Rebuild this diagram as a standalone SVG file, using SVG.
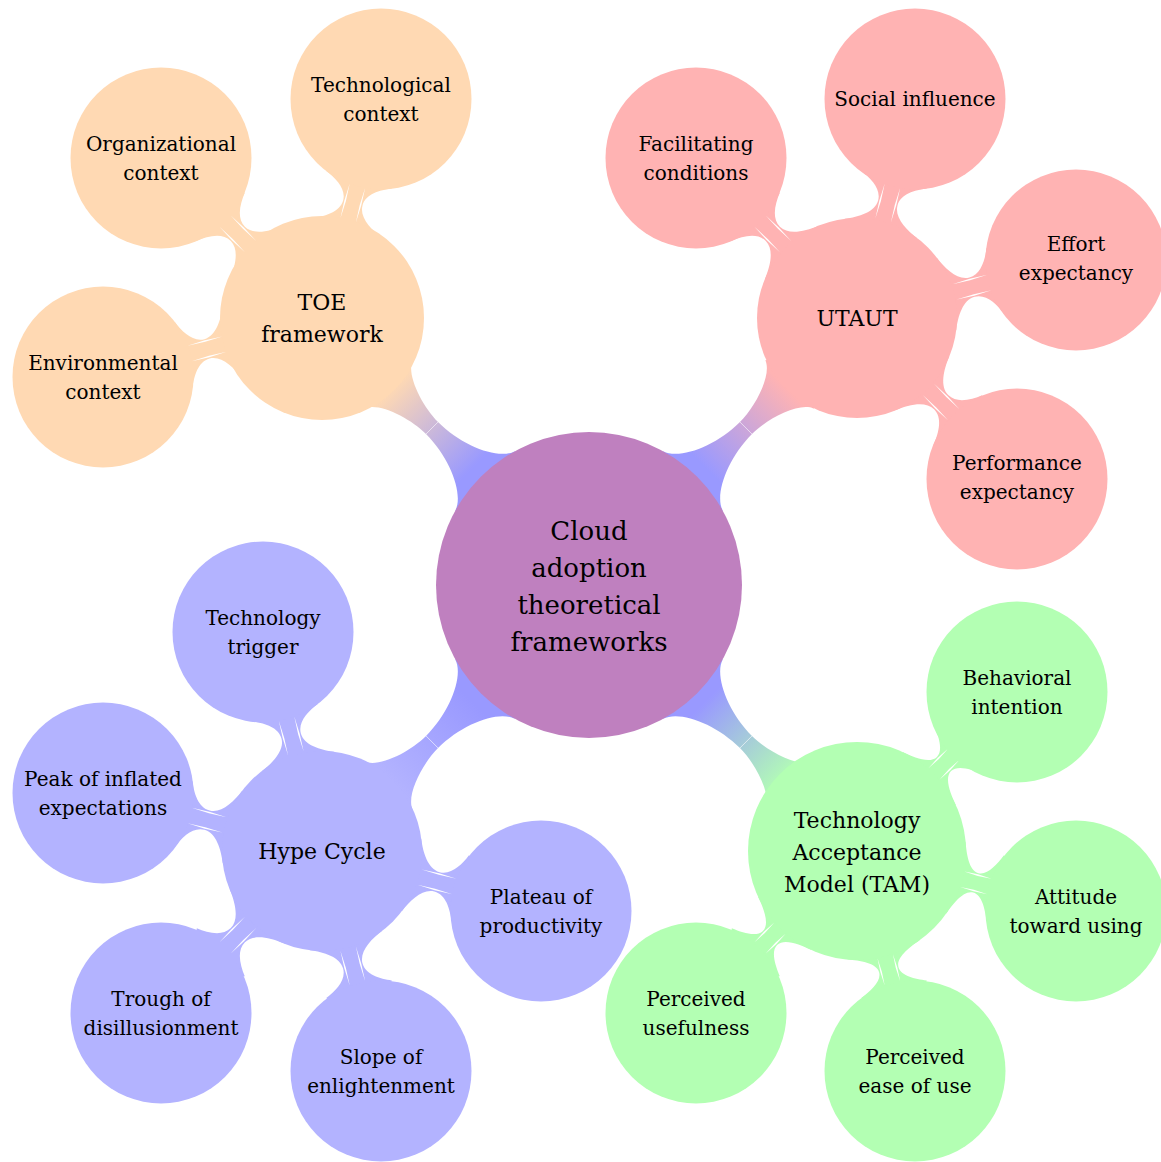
<svg xmlns="http://www.w3.org/2000/svg" xmlns:xlink="http://www.w3.org/1999/xlink" width="1161" height="1162" viewBox="0 0 1161 1162">
<style>
.t{font-family:"DejaVu Serif","Liberation Serif",serif;fill:#000;text-anchor:middle}
.r{font-size:26px}
.l1{font-size:22px}
.l2{font-size:20px}
.seam{stroke:#fff;stroke-width:0.8;opacity:0.7;fill:none}
.sl{fill:#fff}
.o{fill:#ffd9b3}
.rd{fill:#ffb3b3}
.b{fill:#b3b3ff}
.g{fill:#b3ffb3}
</style>
<defs>
<linearGradient id="gO" gradientUnits="userSpaceOnUse" x1="165" y1="0" x2="279" y2="0"><stop offset="0" stop-color="#9999ff"/><stop offset="1" stop-color="#ffd9b3"/></linearGradient>
<linearGradient id="gR" gradientUnits="userSpaceOnUse" x1="165" y1="0" x2="279" y2="0"><stop offset="0" stop-color="#9999ff"/><stop offset="1" stop-color="#ffb3b3"/></linearGradient>
<linearGradient id="gB" gradientUnits="userSpaceOnUse" x1="165" y1="0" x2="279" y2="0"><stop offset="0" stop-color="#9999ff"/><stop offset="1" stop-color="#b3b3ff"/></linearGradient>
<linearGradient id="gG" gradientUnits="userSpaceOnUse" x1="165" y1="0" x2="279" y2="0"><stop offset="0" stop-color="#9999ff"/><stop offset="1" stop-color="#b3ffb3"/></linearGradient>
<g id="c1">
<path d="M147.1 42.2C152.1 24.9 187 8.5 222 8.5C244 8.5 278.1 19.2 283.6 34.2L330 0L283.6 -34.2C278.1 -19.2 244 -8.5 222 -8.5C187 -8.5 152.1 -24.9 147.1 -42.2L100 0Z"/>
<path class="seam" d="M222 -8.5V8.5"/>
</g>
<g id="c2">
<path d="M92.7 37.5C98 24.5 107 10 119 10C131 10 138.6 22.8 143.1 33.9L190 0L143.1 -33.9C138.6 -22.8 131 -10 119 -10C107 -10 98 -24.5 92.7 -37.5L40 0Z"/>
<path class="sl" d="M101 8L119 7.2L137 8L119 8.8ZM101 -8L119 -7.2L137 -8L119 -8.8Z"/>
</g>
<g id="c2b">
<path d="M102.4 37.3C106.5 26 113 10 123 10C132 10 138.6 22.8 143.1 33.9L190 0L143.1 -33.9C138.6 -22.8 132 -10 123 -10C113 -10 106.5 -26 102.4 -37.3L40 0Z"/>
<path class="sl" d="M109 8L123 7.2L137 8L123 8.8ZM109 -8L123 -7.2L137 -8L123 -8.8Z"/>
</g>
</defs>
<rect width="1161" height="1162" fill="#fff"/>
<g id="connectors">
<use href="#c1" fill="url(#gO)" transform="translate(589 585) rotate(-135)"/>
<use href="#c1" fill="url(#gR)" transform="translate(589 585) rotate(-45)"/>
<use href="#c1" fill="url(#gB)" transform="translate(589 585) rotate(135)"/>
<use href="#c1" fill="url(#gG)" transform="translate(589 585) rotate(45)"/>
<use href="#c2" fill="#ffd9b3" transform="translate(322 318) rotate(-75)"/>
<use href="#c2" fill="#ffd9b3" transform="translate(322 318) rotate(-135)"/>
<use href="#c2" fill="#ffd9b3" transform="translate(322 318) rotate(165)"/>
<use href="#c2" fill="#ffb3b3" transform="translate(857 318) rotate(-135)"/>
<use href="#c2" fill="#ffb3b3" transform="translate(857 318) rotate(-75)"/>
<use href="#c2" fill="#ffb3b3" transform="translate(857 318) rotate(-15)"/>
<use href="#c2" fill="#ffb3b3" transform="translate(857 318) rotate(45)"/>
<use href="#c2" fill="#b3b3ff" transform="translate(322 851) rotate(-105)"/>
<use href="#c2" fill="#b3b3ff" transform="translate(322 851) rotate(-165)"/>
<use href="#c2" fill="#b3b3ff" transform="translate(322 851) rotate(135)"/>
<use href="#c2" fill="#b3b3ff" transform="translate(322 851) rotate(75)"/>
<use href="#c2" fill="#b3b3ff" transform="translate(322 851) rotate(15)"/>
<use href="#c2b" fill="#b3ffb3" transform="translate(857 851) rotate(-45)"/>
<use href="#c2b" fill="#b3ffb3" transform="translate(857 851) rotate(15)"/>
<use href="#c2b" fill="#b3ffb3" transform="translate(857 851) rotate(75)"/>
<use href="#c2b" fill="#b3ffb3" transform="translate(857 851) rotate(135)"/>
</g>
<g id="root"><circle cx="589" cy="585" r="153" fill="#bf80bf"/>
<text class="t r" x="589" y="540">Cloud</text><text class="t r" x="589" y="577">adoption</text><text class="t r" x="589" y="614">theoretical</text><text class="t r" x="589" y="651">frameworks</text></g>
<g id="toe"><circle class="o" cx="322" cy="318" r="102"/><text class="t l1" x="322" y="310">TOE</text><text class="t l1" x="322" y="342">framework</text></g>
<g id="utaut"><circle class="rd" cx="857" cy="318" r="100"/><text class="t l1" x="857" y="326">UTAUT</text></g>
<g id="hype"><circle class="b" cx="322" cy="851" r="100"/><text class="t l1" x="322" y="859">Hype Cycle</text></g>
<g id="tam"><circle class="g" cx="857" cy="851" r="109"/><text class="t l1" x="857" y="828">Technology</text><text class="t l1" x="857" y="860">Acceptance</text><text class="t l1" x="857" y="892">Model (TAM)</text></g>
<g id="tech-ctx"><circle class="o" cx="381" cy="99" r="90.5"/><text class="t l2" x="381" y="92">Technological</text><text class="t l2" x="381" y="121">context</text></g>
<g id="org-ctx"><circle class="o" cx="161" cy="158" r="90.5"/><text class="t l2" x="161" y="151">Organizational</text><text class="t l2" x="161" y="180">context</text></g>
<g id="env-ctx"><circle class="o" cx="103" cy="377" r="90.5"/><text class="t l2" x="103" y="370">Environmental</text><text class="t l2" x="103" y="399">context</text></g>
<g id="fac"><circle class="rd" cx="696" cy="158" r="90.5"/><text class="t l2" x="696" y="151">Facilitating</text><text class="t l2" x="696" y="180">conditions</text></g>
<g id="soc"><circle class="rd" cx="915" cy="99" r="90.5"/><text class="t l2" x="915" y="106">Social influence</text></g>
<g id="eff"><circle class="rd" cx="1076" cy="260" r="90.5"/><text class="t l2" x="1076" y="251">Effort</text><text class="t l2" x="1076" y="280">expectancy</text></g>
<g id="perf"><circle class="rd" cx="1017" cy="479" r="90.5"/><text class="t l2" x="1017" y="470">Performance</text><text class="t l2" x="1017" y="499">expectancy</text></g>
<g id="trigger"><circle class="b" cx="263" cy="632" r="90.5"/><text class="t l2" x="263" y="625">Technology</text><text class="t l2" x="263" y="654">trigger</text></g>
<g id="peak"><circle class="b" cx="103" cy="793" r="90.5"/><text class="t l2" x="103" y="786">Peak of inflated</text><text class="t l2" x="103" y="815">expectations</text></g>
<g id="trough"><circle class="b" cx="161" cy="1013" r="90.5"/><text class="t l2" x="161" y="1006">Trough of</text><text class="t l2" x="161" y="1035">disillusionment</text></g>
<g id="slope"><circle class="b" cx="381" cy="1071" r="90.5"/><text class="t l2" x="381" y="1064">Slope of</text><text class="t l2" x="381" y="1093">enlightenment</text></g>
<g id="plateau"><circle class="b" cx="541" cy="911" r="90.5"/><text class="t l2" x="541" y="904">Plateau of</text><text class="t l2" x="541" y="933">productivity</text></g>
<g id="behav"><circle class="g" cx="1017" cy="692" r="90.5"/><text class="t l2" x="1017" y="685">Behavioral</text><text class="t l2" x="1017" y="714">intention</text></g>
<g id="attitude"><circle class="g" cx="1076" cy="911" r="90.5"/><text class="t l2" x="1076" y="904">Attitude</text><text class="t l2" x="1076" y="933">toward using</text></g>
<g id="ease"><circle class="g" cx="915" cy="1071" r="90.5"/><text class="t l2" x="915" y="1064">Perceived</text><text class="t l2" x="915" y="1093">ease of use</text></g>
<g id="useful"><circle class="g" cx="696" cy="1013" r="90.5"/><text class="t l2" x="696" y="1006">Perceived</text><text class="t l2" x="696" y="1035">usefulness</text></g>
</svg>
